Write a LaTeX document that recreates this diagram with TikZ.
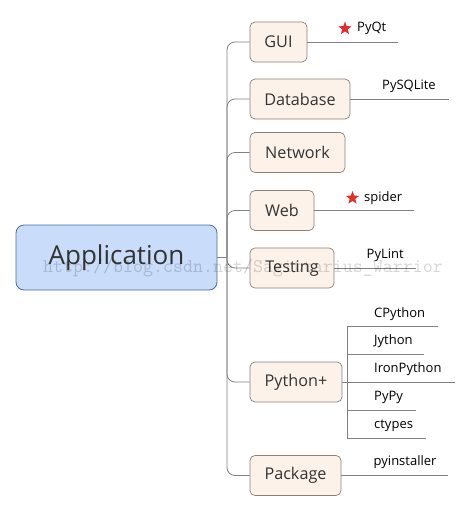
\documentclass[tikz,border=0pt]{standalone}
\usepackage{fontspec}
\setmainfont{Open Sans}
\usetikzlibrary{shapes.geometric}
\definecolor{appfill}{HTML}{C9DCFA}
\definecolor{appdraw}{HTML}{4F6C9B}
\definecolor{boxfill}{HTML}{FDF2E9}
\definecolor{boxdraw}{HTML}{8C8078}
\definecolor{linec}{HTML}{808080}
\definecolor{txt}{HTML}{333333}
\definecolor{starred}{HTML}{E0302E}
\begin{document}
\begin{tikzpicture}[x=1pt,y=-1pt,
 root/.style={draw=appdraw, fill=appfill, rounded corners=8pt, line width=0.8pt, minimum width=201pt, minimum height=65pt, inner sep=0pt, text=txt, font=\fontsize{26}{30}\selectfont},
 topic/.style={draw=boxdraw, fill=boxfill, rounded corners=5pt, line width=0.7pt, minimum height=40pt, inner sep=0pt, text=txt, font=\fontsize{16.2}{19}\selectfont},
 leaf/.style={inner sep=0pt, anchor=west, text=black, font=\fontsize{13}{15}\selectfont},
 conn/.style={draw=linec, line width=0.8pt},
 starmark/.style={star, star points=5, star point ratio=2.4, fill=starred, inner sep=0pt, minimum size=14pt},
 wmark/.style={inner sep=0pt, anchor=base west, text=black, text opacity=0.16, font=\ttfamily\fontsize{19.4}{22}\selectfont}]
\useasboundingbox (0,0) rectangle (471,512);

\node[root] (app) at (116.5,257.5) {Application};

\node[topic, minimum width=57pt] (gui) at (278.5,42) {GUI};
\node[topic, minimum width=100pt] (db) at (300,99) {Database};
\node[topic, minimum width=95pt] (net) at (297.5,152.5) {Network};
\node[topic, minimum width=64pt] (web) at (282,210.5) {Web};
\node[topic, minimum width=84pt] (test) at (292,268) {Testing};
\node[topic, minimum width=92pt] (py) at (296,382) {Python+};
\node[topic, minimum width=91pt] (pkg) at (295.5,475.5) {Package};

\coordinate (trunk) at (227,257.5);
\draw[conn] (app.east) -- (trunk);
\foreach \c in {gui,db,net,web,test,py,pkg}
  \draw[conn, rounded corners=8pt] (trunk) |- (\c.west);

% GUI
\coordinate (guiEnd) at (398,42);
\draw[conn] (gui.east) -- (guiEnd);
\node[starmark] (s1) at (345,28.5) {};
\node[leaf] (pyqt) at (357,28) {PyQt};

% Database
\coordinate (dbEnd) at (449,99);
\draw[conn] (db.east) -- (dbEnd);
\node[leaf] (pysql) at (382,86.5) {PySQLite};

% Web
\coordinate (webEnd) at (414,210.5);
\draw[conn] (web.east) -- (webEnd);
\node[starmark] (s2) at (352.5,198) {};
\node[leaf] (spider) at (364,198) {spider};

% Testing
\coordinate (testEnd) at (416,268);
\draw[conn] (test.east) -- (testEnd);
\node[leaf] (pylint) at (366.5,255.5) {PyLint};

% Python+
\coordinate (pj) at (347,382);
\coordinate (ptop) at (347,326);
\coordinate (pbot) at (347,438);
\coordinate (pj2) at (347,354);
\coordinate (pj4) at (347,410);
\draw[conn] (py.east) -- (pj);
\draw[conn] (ptop) -- (pbot);
\coordinate (e1) at (438,326);
\coordinate (e2) at (424,354);
\coordinate (e3) at (455,382);
\coordinate (e4) at (416,410);
\coordinate (e5) at (426,438);
\draw[conn] (ptop) -- (e1);
\draw[conn] (pj2) -- (e2);
\draw[conn] (pj) -- (e3);
\draw[conn] (pj4) -- (e4);
\draw[conn] (pbot) -- (e5);
\node[leaf] (cpy) at (374,314) {CPython};
\node[leaf] (jy) at (374,341.5) {Jython};
\node[leaf] (iron) at (374,369.5) {IronPython};
\node[leaf] (pypy) at (374,397.5) {PyPy};
\node[leaf] (ct) at (374,425.5) {ctypes};

% Package
\coordinate (pkgEnd) at (448,475.5);
\draw[conn] (pkg.east) -- (pkgEnd);
\node[leaf] (pyi) at (373.5,462) {pyinstaller};

% watermark
\node[wmark] (wm) at (43,272) {http://blog.csdn.net/Sagittarius\_Warrior};
\end{tikzpicture}
\end{document}
